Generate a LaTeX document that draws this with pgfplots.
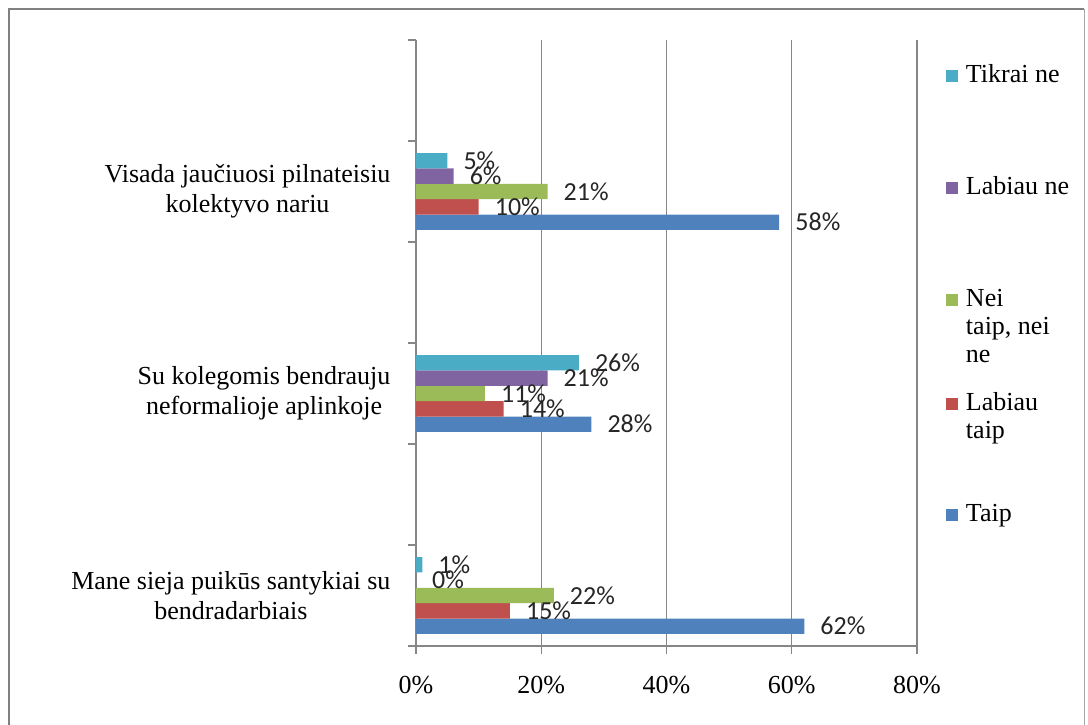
\documentclass[border=0pt]{standalone}
\usepackage{pgfplots}
\pgfplotsset{compat=1.18}
\usepackage{fontspec}
\setmainfont{Liberation Serif}
\newfontfamily\calib{Carlito}
\definecolor{cTaip}{HTML}{4F81BD}
\definecolor{cLT}{HTML}{C0504D}
\definecolor{cNei}{HTML}{9BBB59}
\definecolor{cLN}{HTML}{8064A2}
\definecolor{cTN}{HTML}{4BACC6}
\definecolor{axgray}{HTML}{868686}
\begin{document}
\begin{tikzpicture}
\path[use as bounding box] (-416pt,-79pt) rectangle (672pt,646pt);
\draw[color=black!50, line width=2.5pt] (-407pt,-90pt) -- (-407pt,637pt) -- (668pt,637pt);
\draw[color=black!35, line width=1pt] (668pt,637pt) -- (668pt,-90pt);
\begin{axis}[
  at={(0pt,0pt)}, anchor=south west,
  scale only axis, width=501pt, height=606pt,
  /pgf/number format/assume math mode=true,
  xbar=0pt, bar width=0.152,
  xmin=0, xmax=80, ymin=0.5, ymax=6.5,
  xtick={0,20,40,60,80},
  xticklabel={\pgfmathprintnumber{\tick}\%},
  xticklabel style={font=\fontsize{26}{30}\selectfont, yshift=-19pt},
  ytick={0.5,1.5,...,6.5}, yticklabels={,,,,,,,},
  extra y ticks={1,3,5},
  extra y tick labels={Mane sieja puikūs santykiai su\\bendradarbiais, Su kolegomis bendrauju\\neformalioje aplinkoje, Visada jaučiuosi pilnateisiu\\kolektyvo nariu},
  extra y tick style={tick style={draw=none}},
  yticklabel style={align=center, font=\fontsize{26}{30}\selectfont, xshift=-14pt},
  axis x line*=bottom, axis y line*=left,
  axis line style={draw=axgray, line width=1.2pt, -},
  tick align=outside, major tick length=8pt,
  tick style={draw=axgray, line width=1.2pt},
  xmajorgrids, grid style={draw=axgray, line width=1.2pt},
  point meta=x,
  nodes near coords={\pgfmathprintnumber{\pgfplotspointmeta}\%},
  every node near coord/.append style={font=\calib\fontsize{26}{30}\selectfont, text=black!85, anchor=west, inner sep=0pt, xshift=16pt},
  legend cell align=left, reverse legend,
  legend image code/.code={\fill[#1] (0pt,1pt) rectangle (12pt,13pt);},
  legend style={draw=none, fill=none, at={(rel axis cs:1,1)}, anchor=north west, xshift=29pt, yshift=-23pt, inner sep=0pt, outer sep=0pt, column sep=8pt, row sep=0pt, font=\fontsize{26}{28}\selectfont, nodes={text depth=, text height=, inner sep=0pt}, cells={anchor=base west, inner sep=0pt}},
]
\addplot[fill=cTaip, draw=none] coordinates {(62,1) (28,3) (58,5)};
\addlegendentry{\parbox[t][30pt][t]{130pt}{\strut Taip}}
\addplot[fill=cLT, draw=none] coordinates {(15,1) (14,3) (10,5)};
\addlegendentry{\parbox[t][111pt][t]{130pt}{\strut Labiau\\taip}}
\addplot[fill=cNei, draw=none] coordinates {(22,1) (11,3) (21,5)};
\addlegendentry{\parbox[t][104pt][t]{130pt}{\strut Nei\\taip, nei\\ne}}
\addplot[fill=cLN, draw=none] coordinates {(0,1) (21,3) (6,5)};
\addlegendentry{\parbox[t][112pt][t]{130pt}{\strut Labiau ne}}
\addplot[fill=cTN, draw=none] coordinates {(1,1) (26,3) (5,5)};
\addlegendentry{\parbox[t][112pt][t]{130pt}{\strut Tikrai ne}}
\end{axis}
\end{tikzpicture}
\end{document}
